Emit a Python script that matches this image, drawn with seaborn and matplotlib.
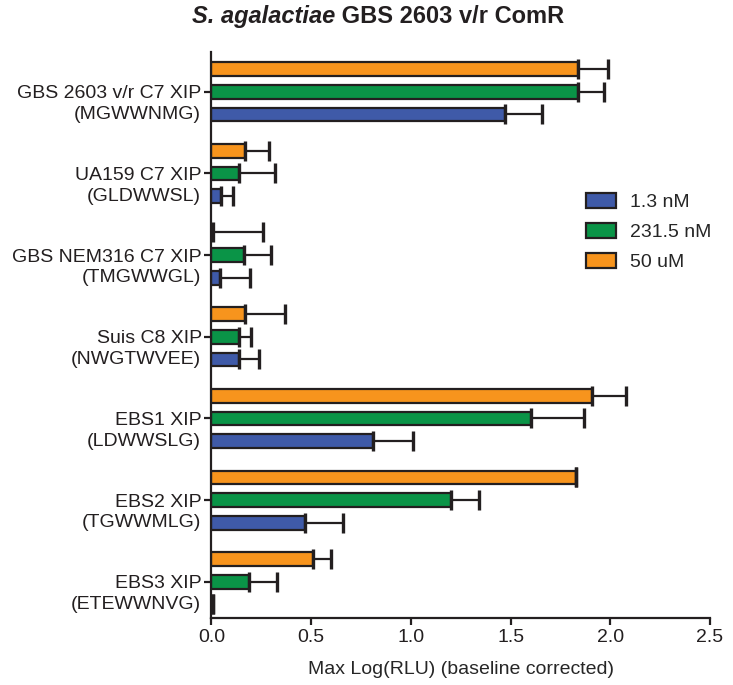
import numpy as np
import pandas as pd
import matplotlib
matplotlib.use('Agg')
import matplotlib.pyplot as plt
import seaborn as sns
from matplotlib.patches import Patch
from matplotlib.transforms import offset_copy
from matplotlib.offsetbox import TextArea, HPacker, AnchoredOffsetbox

# ── Data ──────────────────────────────────────
peptides = ['GBS 2603 v/r C7 XIP', 'UA159 C7 XIP', 'GBS NEM316 C7 XIP',
            'Suis C8 XIP', 'EBS1 XIP', 'EBS2 XIP', 'EBS3 XIP']
sequences = ['(MGWWNMG)', '(GLDWWSL)', '(TMGWWGL)', '(NWGTWVEE)',
             '(LDWWSLG)', '(TGWWMLG)', '(ETEWWNVG)']
concs = ['1.3 nM', '231.5 nM', '50 uM']

mean_13nm = [1.47, 0.05, 0.045, 0.14, 0.81, 0.47, 0.01]
err_13nm = [0.19, 0.06, 0.15, 0.10, 0.20, 0.19, 0.0]
mean_231nm = [1.84, 0.14, 0.165, 0.14, 1.60, 1.20, 0.19]
err_231nm = [0.13, 0.18, 0.135, 0.06, 0.27, 0.14, 0.14]
mean_50um = [1.84, 0.17, 0.01, 0.17, 1.91, 1.83, 0.51]
err_50um = [0.15, 0.12, 0.25, 0.20, 0.17, 0.0, 0.09]

colors = {'1.3 nM': '#3F5AA8', '231.5 nM': '#0A9447', '50 uM': '#F7941D'}
edge = '#231F20'

df = pd.DataFrame({
    'peptide': peptides * 3,
    'conc': [c for c in concs for _ in peptides],
    'value': mean_13nm + mean_231nm + mean_50um,
    'err': err_13nm + err_231nm + err_50um,
})

# ── Style ─────────────────────────────────────
sns.set_theme(style='ticks')
plt.rcParams['font.family'] = ['Liberation Sans', 'DejaVu Sans']
plt.rcParams['axes.linewidth'] = 1.6
plt.rcParams['axes.edgecolor'] = edge

fs = 14

fig = plt.figure(figsize=(7.33, 6.85), dpi=100)
ax = fig.add_axes([0.2885, 0.0978, 0.9686 - 0.2885, 0.924 - 0.0978])

# top to bottom inside each group: 50 uM, 231.5 nM, 1.3 nM
hue_order = ['50 uM', '231.5 nM', '1.3 nM']
sns.barplot(data=df, x='value', y='peptide', hue='conc', order=peptides,
            hue_order=hue_order, palette=colors, saturation=1, orient='h',
            width=0.833, gap=0.4, errorbar=None, legend=False,
            edgecolor=edge, linewidth=1.6, ax=ax)

# one-sided error bars
for cont, conc in zip(ax.containers, hue_order):
    sub = df[df['conc'] == conc].set_index('peptide').loc[peptides]
    ys = [b.get_y() + b.get_height() / 2 for b in cont]
    xs = sub['value'].values
    ers = sub['err'].values
    ax.errorbar(xs, ys, xerr=[np.zeros_like(ers), ers], fmt='none',
                ecolor=edge, elinewidth=1.6, capsize=7, capthick=2.4,
                zorder=1)

ax.set_xlim(0, 2.5)
ax.set_xticks(np.arange(0, 2.51, 0.5))
ax.set_xticklabels([f'{v:.1f}' for v in np.arange(0, 2.51, 0.5)])
ax.set_ylim(6.444, -0.486)
ax.set_ylabel('')
ax.set_xlabel('Max Log(RLU) (baseline corrected)', fontsize=fs, labelpad=11)
ax.tick_params(axis='both', labelsize=fs, length=5, width=1.6,
               color=edge, labelcolor='#231F20')
ax.tick_params(axis='y', pad=2)
ax.tick_params(axis='x', pad=3)
sns.despine(ax=ax)

# second line of each label (peptide sequence)
seq_tr = offset_copy(ax.get_yaxis_transform(), fig=fig, x=-7.6, y=0,
                     units='points')
for i, s in enumerate(sequences):
    ax.text(0, i + 0.278, s, transform=seq_tr, ha='right', va='center',
            fontsize=fs, color='#231F20')

# legend
handles = [Patch(facecolor=colors[c], edgecolor=edge, linewidth=1.6,
                 label=c) for c in concs]
fig.legend(handles=handles, loc='upper left', bbox_to_anchor=(0.8, 0.718),
           frameon=False, fontsize=fs, handlelength=1.5, handleheight=0.8,
           handletextpad=0.75, labelspacing=0.6, borderpad=0,
           borderaxespad=0)

# title, italic species name + bold rest
t1 = TextArea('S. agalactiae', textprops=dict(fontsize=17, weight='bold',
                                              style='italic',
                                              color='#231F20'))
t2 = TextArea(' GBS 2603 v/r ComR', textprops=dict(fontsize=17,
                                                   weight='bold',
                                                   color='#231F20'))
box = HPacker(children=[t1, t2], align='baseline', pad=0, sep=0)
title = AnchoredOffsetbox(loc='upper center', child=box, frameon=False,
                          bbox_to_anchor=(0.516, 0.992),
                          bbox_transform=fig.transFigure, pad=0,
                          borderpad=0)
fig.add_artist(title)

fig.savefig('out.png', dpi=100)
